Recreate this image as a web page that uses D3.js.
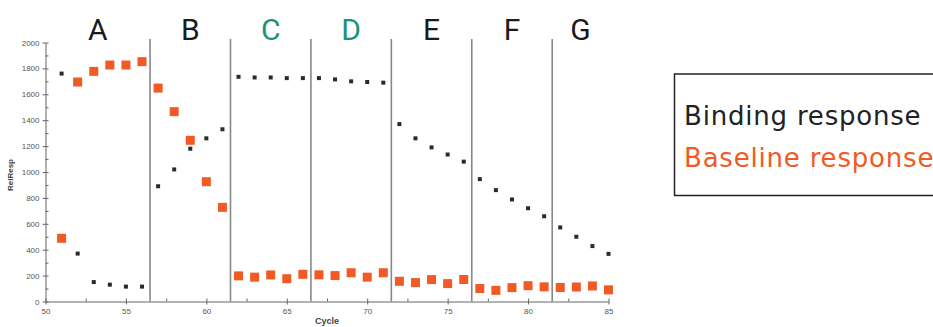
<!DOCTYPE html>
<html>
<head>
<meta charset="utf-8" />
<title>Binding vs baseline response</title>
<style>
    body { margin: 0; background: #fff; }
    svg { display: block; }
    .axis text { font-family: "Liberation Sans", Arial, sans-serif; font-size: 8px; fill: #555; }
    .axis path, .axis line { stroke: #666; }
</style>
</head>
<body>
<div id="chart"></div>
<script src="https://d3js.org/d3.v7.min.js"></script>
<script>
// cycles and responses
var cycles = d3.range(51, 86);
var binding = [1760, 370, 150, 130, 115, 115,
    890, 1020, 1180, 1260, 1330,
    1735, 1730, 1730, 1725, 1725,
    1725, 1715, 1700, 1695, 1690,
    1370, 1260, 1190, 1135, 1080,
    945, 860, 788, 720, 658,
    572, 500, 428, 368];
var baseline = [488, 1695, 1777, 1826, 1826, 1852,
    1648, 1466, 1245, 925, 727,
    198, 188, 205, 176, 210,
    206, 200, 222, 188, 222,
    156, 146, 169, 138, 170,
    100, 86, 107, 122, 113,
    108, 112, 120, 90];

var segLabels = ["A", "B", "C", "D", "E", "F", "G"];
var segBounds = [50, 56.5, 61.5, 66.5, 71.5, 76.5, 81.5, 85];
var segColors = ["#1b1b1b", "#1b1b1b", "#1a9478", "#1a9478", "#1b1b1b", "#1b1b1b", "#1b1b1b"];

var legendItems = ["Binding response", "Baseline response"];
var legendColors = ["#222", "#f15a24"];

var width = 933, height = 327;
var svg = d3.select("#chart").append("svg")
    .attr("width", width).attr("height", height);

var x = d3.scaleLinear().domain([50, 85]).range([45.5, 608.5]);
var y = d3.scaleLinear().domain([0, 2000]).range([301.5, 42.5]);

// minor ticks
var yMinor = svg.append("g").attr("class", "axis")
    .attr("transform", "translate(" + x(50) + ",0)")
    .call(d3.axisRight(y).tickValues(d3.range(100, 2000, 200)).tickSize(3).tickFormat(""));
yMinor.select(".domain").remove();
var xMinor = svg.append("g").attr("class", "axis")
    .attr("transform", "translate(0," + y(0) + ")")
    .call(d3.axisTop(x).tickValues(d3.range(52.5, 85, 5)).tickSize(3).tickFormat(""));
xMinor.select(".domain").remove();

var yAxis = svg.append("g").attr("class", "axis")
    .attr("transform", "translate(" + x(50) + ",0)")
    .call(d3.axisLeft(y).tickValues(d3.range(0, 2001, 200)).tickFormat(d3.format("d"))
        .tickSize(3).tickSizeOuter(0).tickPadding(3));
yAxis.selectAll(".tick line").attr("x2", 3).attr("x1", -3);

var xAxis = svg.append("g").attr("class", "axis")
    .attr("transform", "translate(0," + y(0) + ")")
    .call(d3.axisBottom(x).tickValues(d3.range(50, 86, 5)).tickFormat(d3.format("d"))
        .tickSize(3).tickSizeOuter(0).tickPadding(4));
xAxis.selectAll(".tick line").attr("y1", -3).attr("y2", 3);

// segment separators
svg.append("g").selectAll("line")
    .data(segBounds.slice(1, -1))
    .enter().append("line")
    .attr("x1", function(d) { return x(d); })
    .attr("x2", function(d) { return x(d); })
    .attr("y1", 39)
    .attr("y2", y(0))
    .attr("stroke", "#888")
    .attr("stroke-width", 1.6);

// segment letters
svg.append("g").selectAll("text")
    .data(segLabels)
    .enter().append("text")
    .attr("x", function(d, i) { return x((segBounds[i] + segBounds[i + 1]) / 2); })
    .attr("y", 40)
    .attr("text-anchor", "middle")
    .style("font-family", "Roboto, sans-serif")
    .style("font-size", "30px")
    .style("fill", function(d, i) { return segColors[i]; })
    .text(function(d) { return d; });

// axis titles
svg.append("text")
    .attr("transform", "translate(13,175) rotate(-90)")
    .attr("text-anchor", "middle")
    .style("font-family", "Liberation Sans, Arial, sans-serif")
    .style("font-size", "8px")
    .style("font-weight", "bold")
    .style("fill", "#444")
    .text("RelResp");
svg.append("text")
    .attr("x", (x(50) + x(85)) / 2)
    .attr("y", 324)
    .attr("text-anchor", "middle")
    .style("font-family", "Liberation Sans, Arial, sans-serif")
    .style("font-size", "9px")
    .style("font-weight", "bold")
    .style("fill", "#444")
    .text("Cycle");

// baseline squares
svg.append("g").selectAll("rect")
    .data(baseline)
    .enter().append("rect")
    .attr("x", function(d, i) { return x(cycles[i]) - 4.5; })
    .attr("y", function(d) { return y(d) - 4.5; })
    .attr("width", 9)
    .attr("height", 9)
    .attr("fill", "#f15a24");

// binding dots
svg.append("g").selectAll("rect")
    .data(binding)
    .enter().append("rect")
    .attr("x", function(d, i) { return x(cycles[i]) - 2; })
    .attr("y", function(d) { return y(d) - 2; })
    .attr("width", 4)
    .attr("height", 4)
    .attr("fill", "#2a2a2a");

// legend box
svg.append("rect")
    .attr("x", 674.5).attr("y", 74)
    .attr("width", 300).attr("height", 121.5)
    .attr("fill", "none")
    .attr("stroke", "#222")
    .attr("stroke-width", 1.5);
svg.append("g").selectAll("text")
    .data(legendItems)
    .enter().append("text")
    .attr("x", 684)
    .attr("y", function(d, i) { return 125 + i * 41.5; })
    .style("font-family", "DejaVu Sans, sans-serif")
    .style("font-size", "26px")
    .style("letter-spacing", "0.8px")
    .style("fill", function(d, i) { return legendColors[i]; })
    .text(function(d) { return d; });
</script>
</body>
</html>
